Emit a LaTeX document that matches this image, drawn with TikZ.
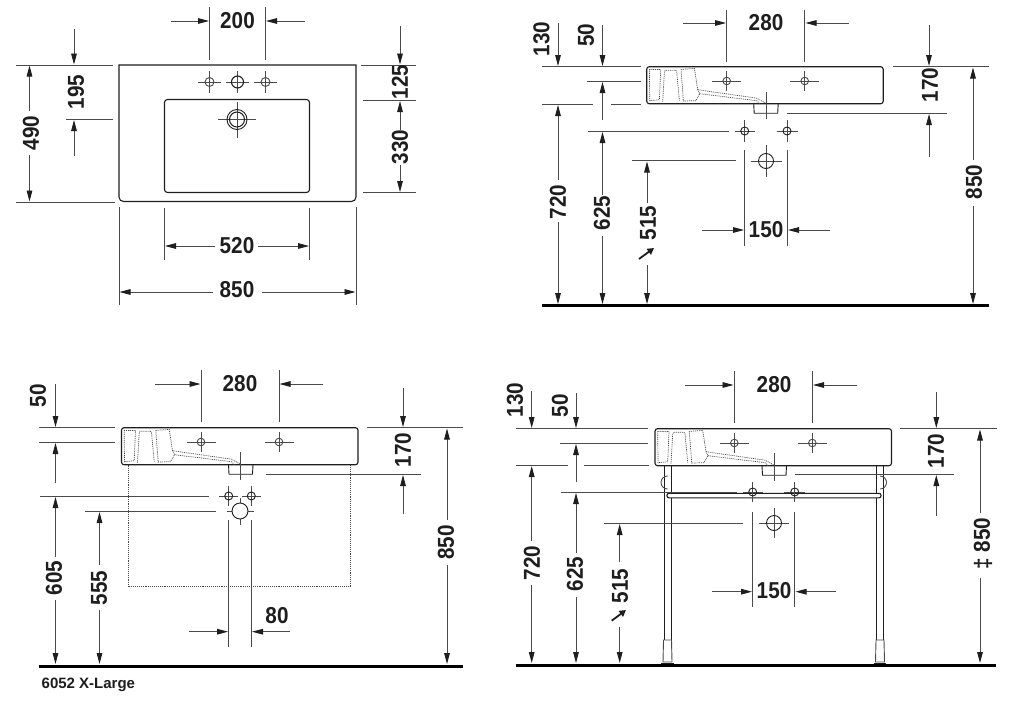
\documentclass[tikz,border=0pt]{standalone}
\usepackage{fontspec}
\usetikzlibrary{arrows.meta}
\setmainfont{Liberation Sans}
\newfontfamily\dimfont[FakeStretch=0.9]{Liberation Sans}
\definecolor{dimcol}{HTML}{4A4A4A}
\definecolor{inkcol}{HTML}{1E1E1E}
\tikzset{
  dimline/.style={draw=dimcol,line width=0.9pt},
  dimarrow/.style={draw=dimcol,line width=0.9pt,-{Stealth[length=11pt,width=5.6pt,inset=0pt,fill=inkcol,color=inkcol]}},
  diagarrow/.style={draw=inkcol,line width=1.8pt,-{Stealth[length=6.5pt,width=7pt,inset=0pt]}},
  basinline/.style={draw=inkcol,line width=1.1pt},
  dotline/.style={draw=dimcol,line width=0.7pt,dash pattern=on 1pt off 0.9pt},
  crossline/.style={draw=dimcol,line width=0.7pt},
  holecirc/.style={draw=inkcol,line width=0.9pt},
  floorline/.style={draw=black,line width=3pt},
  dimtext/.style={inner sep=0pt,text=inkcol,font=\dimfont\bfseries\fontsize{23}{23}\selectfont},
  vertdim/.style={dimtext,rotate=90},
}
\newcommand{\markhole}[6]{% x y r dxleft/right dy
  \draw[crossline] ({#1-#4},#2) -- ({#1+#4},#2) ({#1},{#2-#5}) -- ({#1},{#2+#5});
  \draw[holecirc,#6] (#1,#2) circle (#3);
}
\newcommand{\sidebasin}[2]{%
 \begin{scope}[shift={(#1,#2)}]
  \draw[basinline,rounded corners=2.5pt] (0,0) rectangle (236.5,37);
  \draw[basinline,line width=0.9pt] (107,37) -- (107.5,46.5) -- (131,46.5) -- (131.5,37);
  \draw[dotline] (2.7,2.7) -- (14,2.7) -- (12.7,33) -- (3,34) -- cycle;
  \draw[dotline] (16,35) -- (17.7,5) .. controls (18,3.5) and (19,3.5) .. (20,3.5) -- (28,3.5) .. controls (29,3.5) and (30,4) .. (30,5) -- (32.7,34);
  \draw[dotline] (34.3,2.7) -- (47.7,1.7) -- (51,23) -- (53,27) -- (49,34) -- (36.7,34.3) -- cycle;
  \draw[dotline] (51,23) -- (110,31.5) -- (120,37);
  \draw[dotline] (53,27) -- (110,34) -- (113,37);
 \end{scope}}
\begin{document}
\begin{tikzpicture}[x=1pt,y=-1pt]
\useasboundingbox[fill=white] (0,0) rectangle (1024,715);

%% ===== Panel 1: plan =====
\draw[basinline,rounded corners=0pt] (119,65) -- (356,65) -- (356,197) arc[start angle=0,end angle=90,radius=4.5] -- (123.5,201.5) arc[start angle=90,end angle=180,radius=4.5] -- cycle;
\draw[basinline,rounded corners=3pt] (164.5,99.5) rectangle (309.5,192.5);
\markhole{209.5}{82}{4.5}{11.5}{11}{draw=dimcol}
\markhole{237.5}{82}{6}{11.5}{11}{line width=1.1pt}
\markhole{265.5}{82}{4.5}{11.5}{11}{draw=dimcol}
\draw[crossline] (218,119.5) -- (256,119.5) (237,102) -- (237,138);
\draw[holecirc] (237,119.5) circle (10);
\draw[holecirc,line width=1pt] (237,119.5) circle (7.5);
% 200
\draw[dimline] (209.5,7) -- (209.5,60) (265.5,7) -- (265.5,60);
\draw[dimarrow] (171,21) -- (209,21);
\draw[dimarrow] (305,21) -- (266,21);
\node[dimtext] (a200) at (237.5,21) {200};
% 195
\draw[dimline] (16,65) -- (113,65) (66,119.5) -- (113,119.5);
\draw[dimarrow] (74,29) -- (74,64.5);
\draw[dimarrow] (74,156) -- (74,120);
\node[vertdim] (a195) at (76,92) {195};
% 490
\draw[dimline] (16,202) -- (115,202);
\draw[dimarrow] (29.5,111) -- (29.5,65.5);
\draw[dimarrow] (29.5,155) -- (29.5,201.5);
\node[vertdim] (a490) at (31,133) {490};
% 125 / 330
\draw[dimline] (361,65) -- (416,65) (363,100.5) -- (416,100.5) (363,192.5) -- (416,192.5);
\draw[dimarrow] (400,26) -- (400,64.5);
\node[vertdim] (a125) at (400,82) {125};
\draw[dimarrow] (400,130) -- (400,101);
\draw[dimarrow] (400,165) -- (400,192);
\node[vertdim] (a330) at (400,147) {330};
% 520
\draw[dimline] (164.5,208) -- (164.5,260) (309.5,208) -- (309.5,260);
\draw[dimarrow] (215,246) -- (165,246);
\draw[dimarrow] (258,246) -- (309,246);
\node[dimtext] (a520) at (237,246) {520};
% 850
\draw[dimline] (119,207) -- (119,305) (356,207) -- (356,305);
\draw[dimarrow] (213,292) -- (119.5,292);
\draw[dimarrow] (262,292) -- (355.5,292);
\node[dimtext] (a850) at (237,290) {850};

%% ===== Panel 2: front, wall =====
\sidebasin{646.7}{66.7}
\draw[crossline] (766,91.7) -- (766,119);
\markhole{726.7}{81}{3.8}{14.5}{10}{draw=dimcol}
\markhole{804.7}{81}{3.8}{14.5}{10}{draw=dimcol}
\markhole{744.7}{131}{4}{10}{11}{}
\markhole{787}{131}{4}{10.5}{11}{}
\markhole{766}{161}{7.5}{15.5}{16}{}
% 280
\draw[dimline] (726.7,10) -- (726.7,62) (804.7,10) -- (804.7,62);
\draw[dimarrow] (683,23) -- (726,23);
\draw[dimarrow] (849,23) -- (805.5,23);
\node[dimtext] (b280) at (766,23) {280};
% ext lines
\draw[dimline] (542,66.7) -- (641,66.7) (587,81) -- (641,81) (542,104) -- (593,104) (611,104) -- (641,104);
\draw[dimline] (588,131) -- (729,131) (632,160.7) -- (736,160.7);
% 130 / 50
\draw[dimarrow] (558,23) -- (558,66);
\node[vertdim] (b130) at (541.5,39) {130};
\draw[dimarrow] (602.5,25) -- (602.5,66);
\node[vertdim] (b50) at (586,35) {50};
\draw[dimarrow] (602.5,120) -- (602.5,82);
% 720
\draw[dimarrow] (558,180) -- (558,105);
\draw[dimarrow] (558,222) -- (558,304);
\node[vertdim] (b720) at (558,202) {720};
% 625
\draw[dimarrow] (602.5,195) -- (602.5,132);
\draw[dimarrow] (602.5,236) -- (602.5,304);
\node[vertdim] (b625) at (602,213) {625};
% 515
\draw[dimarrow] (647,203) -- (647,161.5);
\draw[dimarrow] (647,265) -- (647,304);
\node[vertdim] (b515) at (648,223) {515};
\draw[diagarrow] (639,259) -- (654,248);
% 150
\draw[dimline] (744.7,150) -- (744.7,246) (787,150) -- (787,246);
\draw[dimarrow] (702,230) -- (744,230);
\draw[dimarrow] (830,230) -- (788,230);
\node[dimtext] (b150) at (766,230) {150};
% 170
\draw[dimline] (893,66.7) -- (989,66.7) (787,113) -- (947,113);
\draw[dimarrow] (929,25) -- (929,66);
\draw[dimarrow] (929,157) -- (929,114);
\node[vertdim] (b170) at (930,85) {170};
% 850
\draw[dimarrow] (973,160) -- (973,67.5);
\draw[dimarrow] (973,205.7) -- (973,304);
\node[vertdim] (b850) at (974,182) {850};
\draw[floorline] (542,305) -- (989,305);

%% ===== Panel 3: X-Large =====
\draw[dotline] (128,464.5) -- (128,586.7) -- (350.7,586.7) -- (350.7,464.5);
\sidebasin{121.5}{427.7}
\draw[crossline] (240,452) -- (240,480);
\markhole{201}{442}{3.8}{14.5}{10}{draw=dimcol}
\markhole{279}{442}{3.8}{14.5}{10}{draw=dimcol}
\markhole{228.7}{496}{4}{9.5}{10}{}
\markhole{251.3}{496}{4}{9.5}{10}{}
\markhole{240}{511}{8}{13.5}{13.5}{fill=white}
% 280
\draw[dimline] (201,370) -- (201,422) (279,370) -- (279,422);
\draw[dimarrow] (155,384) -- (200.5,384);
\draw[dimarrow] (323,384) -- (279.5,384);
\node[dimtext] (c280) at (240,383.5) {280};
% ext
\draw[dimline] (39,427.7) -- (115,427.7) (39,442) -- (115,442) (40,496) -- (209,496) (85,511) -- (216,511);
% 50
\draw[dimarrow] (55.5,384) -- (55.5,427);
\draw[dimarrow] (55.5,483) -- (55.5,443);
\node[vertdim] (c50) at (38,395.7) {50};
% 605
\draw[dimarrow] (55.5,556.7) -- (55.5,497);
\draw[dimarrow] (55.5,600) -- (55.5,664);
\node[vertdim] (c605) at (54,578) {605};
% 555
\draw[dimarrow] (99.5,565) -- (99.5,512);
\draw[dimarrow] (99.5,610) -- (99.5,664);
\node[vertdim] (c555) at (99,588) {555};
% 80
\draw[dimline] (228.7,520) -- (228.7,647) (251,520) -- (251,647);
\draw[dimarrow] (189,631.7) -- (228,631.7);
\draw[dimarrow] (290,631.7) -- (252,631.7);
\node[dimtext] (c80) at (277,616) {80};
% 170
\draw[dimline] (366.7,427.7) -- (463,427.7) (266,474) -- (420.7,474);
\draw[dimarrow] (403,388) -- (403,427);
\draw[dimarrow] (403,514) -- (403,475);
\node[vertdim] (c170) at (403,450) {170};
% 850
\draw[dimarrow] (447,520) -- (447,428.5);
\draw[dimarrow] (447,565) -- (447,664);
\node[vertdim] (c850) at (446,542.7) {850};
\draw[floorline] (39,666) -- (463,666);
\node[anchor=west,inner sep=0pt,text=inkcol,font=\bfseries\fontsize{15}{15}\selectfont] (lbl) at (41.5,685) {6052 X-Large};

%% ===== Panel 4: with console =====
% legs
\draw[basinline,fill=white,line width=0.9pt] (664.3,465) -- (664.3,662) (671,465) -- (671,662);
\draw[basinline,fill=white,line width=0.9pt] (876.7,465) -- (876.7,662) (883.3,465) -- (883.3,662);
\draw[dimline,fill=white] (663.5,640) -- (671.5,640) -- (672,662) -- (663,662) -- cycle;
\draw[dimline,fill=white] (876,640) -- (884,640) -- (884.5,662) -- (875.5,662) -- cycle;
\draw[basinline,line width=1.4pt] (661,663.5) -- (673.5,663.5) (873.5,663.5) -- (886,663.5);
\draw[dimline] (667.5,489) arc[start angle=90,end angle=270,radius=6.5];
\draw[dimline] (880,489) arc[start angle=90,end angle=-90,radius=6.5];
\draw[basinline,line width=1.1pt,fill=white,rounded corners=2pt] (667,493.3) rectangle (881,497.8);
\sidebasin{655}{428.7}
\draw[crossline] (774,453) -- (774,481);
\markhole{734.3}{443}{3.8}{14.5}{10}{draw=dimcol}
\markhole{812.3}{443}{3.8}{14.5}{10}{draw=dimcol}
\markhole{752.7}{492}{4}{10}{10}{}
\markhole{794.7}{492}{4}{10.5}{10}{}
\markhole{774}{523}{7.5}{15}{15}{}
% 280
\draw[dimline] (734.3,371) -- (734.3,423) (812.3,371) -- (812.3,423);
\draw[dimarrow] (685,385) -- (733.5,385);
\draw[dimarrow] (857,385) -- (813,385);
\node[dimtext] (d280) at (774,385) {280};
% ext
\draw[dimline] (515.7,428.7) -- (648,428.7) (560,443) -- (648,443) (515.7,465.3) -- (568,465.3) (584,465.3) -- (649,465.3);
\draw[dimline] (561,492) -- (737,492) (604,523) -- (743,523);
% 130 / 50
\draw[dimarrow] (531.7,391) -- (531.7,428);
\node[vertdim] (d130) at (515,400) {130};
\draw[dimarrow] (576,393) -- (576,428);
\node[vertdim] (d50) at (560,405.7) {50};
\draw[dimarrow] (576,482) -- (576,444);
% 720
\draw[dimarrow] (531.7,541) -- (531.7,466);
\draw[dimarrow] (531.7,585) -- (531.7,663);
\node[vertdim] (d720) at (532,563) {720};
% 625
\draw[dimarrow] (576,553) -- (576,493);
\draw[dimarrow] (576,597) -- (576,663);
\node[vertdim] (d625) at (575,574) {625};
% 515
\draw[dimarrow] (619.7,562) -- (619.7,524);
\draw[dimarrow] (619.7,626.7) -- (619.7,663);
\node[vertdim] (d515) at (620,586) {515};
\draw[diagarrow] (611.7,620.7) -- (626,610);
% 150
\draw[dimline] (752.7,512) -- (752.7,607) (794.7,512) -- (794.7,607);
\draw[dimarrow] (712,591.7) -- (752,591.7);
\draw[dimarrow] (836,591.7) -- (795.5,591.7);
\node[dimtext] (d150) at (774,591) {150};
% 170
\draw[dimline] (900,428.7) -- (996.7,428.7) (795,474) -- (954,474);
\draw[dimarrow] (936.3,391.7) -- (936.3,428);
\draw[dimarrow] (936.3,516) -- (936.3,475);
\node[vertdim] (d170) at (936,451) {170};
% 850
\draw[dimarrow] (980,513) -- (980,429.5);
\draw[dimarrow] (980,578) -- (980,663);
\node[vertdim] (d850) at (982,535) {850};
\node[vertdim] (dmark) at (983,564) {‡};
\draw[floorline] (515.7,665) -- (996,665);
\end{tikzpicture}
\end{document}
